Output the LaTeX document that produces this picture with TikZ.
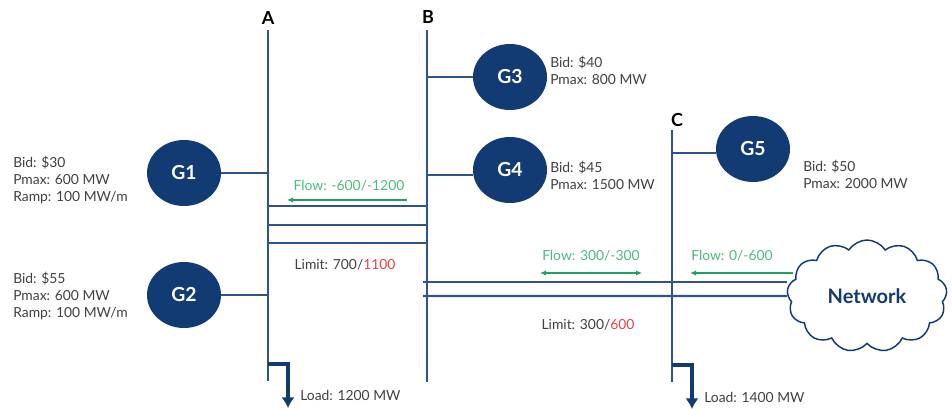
\documentclass[tikz,border=0pt]{standalone}
\usepackage{fontspec}
\setmainfont{Lato}
\usepackage{xcolor}
\usetikzlibrary{arrows.meta, positioning, shapes.geometric, shapes.symbols}
\definecolor{navy}{HTML}{123A73}
\definecolor{busline}{HTML}{2F5488}
\definecolor{flowtext}{HTML}{4CBB7C}
\definecolor{flowline}{HTML}{1FA35A}
\definecolor{limitred}{HTML}{E8404A}
\definecolor{infotext}{HTML}{404040}
\tikzset{
  gen/.style={ellipse, fill=navy, text=white, minimum width=74\unit, minimum height=66\unit, inner sep=0pt, font=\fontsize{14.5}{16}\selectfont\bfseries},
  info/.style={anchor=west, align=left, inner sep=0pt, text=infotext, font=\fontsize{10.4}{12.75}\selectfont},
  flowlabel/.style={inner sep=0pt, text=flowtext, font=\fontsize{10.4}{12.75}\selectfont},
  limitlabel/.style={inner sep=0pt, text=infotext, font=\fontsize{10.4}{12.75}\selectfont},
  buslabel/.style={inner sep=0pt, text=black, font=\fontsize{13.5}{15}\selectfont\bfseries},
  bus/.style={busline, line width=1.9pt},
  wire/.style={busline, line width=1.7pt},
  flow/.style={flowline, line width=1pt},
  load/.style={navy, line width=2.6pt, -{Latex[length=8pt,width=10pt]}}
}
\newcommand{\unit}{pt*0.75}
\begin{document}
\begin{tikzpicture}[x=0.75pt, y=-0.75pt]
    \useasboundingbox (0,0) rectangle (952,409);

    % Buses
    \coordinate (Atop) at (268,30);
    \coordinate (Abot) at (268,381);
    \coordinate (Btop) at (427,30);
    \coordinate (Bbot) at (427,382);
    \coordinate (Ctop) at (672,130);
    \coordinate (Cbot) at (672,382);
    \draw[bus] (Atop) -- (Abot);
    \draw[bus] (Btop) -- (Bbot);
    \draw[bus] (Ctop) -- (Cbot);
    \node[buslabel] (labelA) at (268,18) {A};
    \node[buslabel] (labelB) at (428,17) {B};
    \node[buslabel] (labelC) at (677,120) {C};

    % Generators
    \node[gen] (G1) at (184,173) {G1};
    \node[gen] (G2) at (184,295) {G2};
    \node[gen] (G3) at (510,77) {G3};
    \node[gen] (G4) at (510,170) {G4};
    \node[gen] (G5) at (753,149) {G5};
    \draw[wire] (G1.east) -- (G1.east -| Atop);
    \draw[wire] (G2.east) -- (G2.east -| Atop);
    \coordinate (G4tap) at (G4.west |- 0,175);
    \coordinate (G5tap) at (G5.west |- 0,153);
    \draw[wire] (G3.west) -- (G3.west -| Btop);
    \draw[wire] (G4tap) -- (G4tap -| Btop);
    \draw[wire] (G5tap) -- (G5tap -| Ctop);

    % Generator data
    \node[info] (infoG1) at (13,180) {Bid: \$30\\Pmax: 600 MW\\Ramp: 100 MW/m};
    \node[info] (infoG2) at (13,296) {Bid: \$55\\Pmax: 600 MW\\Ramp: 100 MW/m};
    \node[info] (infoG3) at (550,70) {Bid: \$40\\Pmax: 800 MW};
    \node[info] (infoG4) at (550,175) {Bid: \$45\\Pmax: 1500 MW};
    \node[info] (infoG5) at (803,174) {Bid: \$50\\Pmax: 2000 MW};

    % Lines A to B
    \foreach \y/\name in {206/one, 225/two, 243/three}{
        \coordinate (AB\name) at (268,\y);
        \draw[wire] (AB\name) -- (AB\name -| Btop);
    }
    \node[flowlabel] (flowAB) at (349,186) {Flow: -600/-1200};
    \coordinate (flowABr) at (407,200);
    \coordinate (flowABl) at (287,200);
    \draw[flow, -{Latex[length=4.5pt,width=4pt]}] (flowABr) -- (flowABl);
    \node[limitlabel] (limitAB) at (345,265) {Limit: 700/\textcolor{limitred}{1100}};

    % Network
    \node[cloud, draw=navy, fill=white, line width=1.1pt, cloud puffs=13, cloud puff arc=115, aspect=1.45, minimum width=160\unit, minimum height=112\unit, inner sep=0pt, text=navy, font=\fontsize{15}{17}\selectfont\bfseries] (Network) at (867,296) {Network\hspace{6pt}};

    % Lines B to network
    \coordinate (netone) at (423,282);
    \coordinate (nettwo) at (423,296);
    \draw[wire] (netone) -- (netone -| Network.west);
    \draw[wire] (nettwo) -- (Network.west);
    \node[flowlabel] (flowBC) at (591,256) {Flow: 300/-300};
    \coordinate (flowBCl) at (540,273);
    \coordinate (flowBCr) at (642,273);
    \draw[flow, {Latex[length=4.5pt,width=4pt]}-{Latex[length=4.5pt,width=4pt]}] (flowBCl) -- (flowBCr);
    \node[flowlabel] (flowCN) at (732,256) {Flow: 0/-600};
    \coordinate (flowCNr) at (793,273);
    \coordinate (flowCNl) at (690,273);
    \draw[flow, -{Latex[length=4.5pt,width=4pt]}] (flowCNr) -- (flowCNl);
    \node[limitlabel] (limitBC) at (588,325) {Limit: 300/\textcolor{limitred}{600}};

    % Loads
    \coordinate (loadA) at (268,364);
    \coordinate (loadAend) at (288,408);
    \coordinate (loadC) at (672,365);
    \coordinate (loadCend) at (692,409);
    \draw[load] (loadA) -| (loadAend);
    \draw[load] (loadC) -| (loadCend);
    \node[info] (infoLoadA) at (300,395) {Load: 1200 MW};
    \node[info] (infoLoadC) at (704,397) {Load: 1400 MW};
\end{tikzpicture}
\end{document}
